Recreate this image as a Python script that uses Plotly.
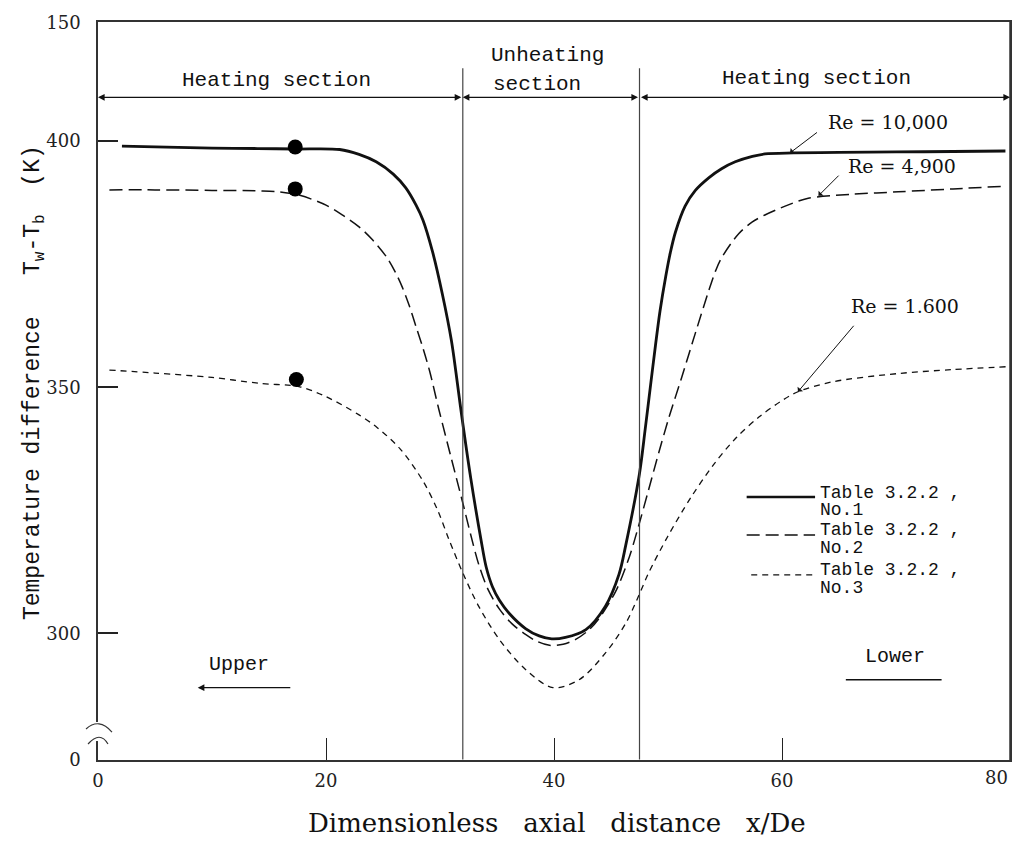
import plotly.graph_objects as go

# ---- data ----
x_re10000 = [2.1, 6, 10, 14, 17.3, 21.2, 22.9, 24.4, 25.9, 27.0, 27.9, 28.5, 29.35, 30.2, 31.0, 31.4,
             31.8, 32.7, 33.6, 34.05, 34.6, 35.2, 36.1, 37.5, 38.7, 39.8, 41.0, 42.8, 44.5, 45.7,
             46.3, 47.5, 48.0, 48.5, 48.9, 49.3, 49.8, 50.2, 50.65, 51.5, 52.4, 53.6, 54.7, 55.9,
             57.4, 58.5, 61, 65, 70, 75, 79.6]
y_re10000 = [399.0, 398.8, 398.6, 398.5, 398.4, 398.3, 397.3, 395.8, 393.3, 390.5, 387.0, 384.0, 377.5,
             369.0, 359.5, 353.0, 346.0, 331.5, 319.0, 313.5, 309.5, 306.8, 304.0, 301.0, 299.5, 298.9,
             299.2, 300.8, 305.5, 312.0, 318.0, 332.5, 341.5, 351.0, 358.5, 365.5, 372.5, 377.3, 381.5,
             386.8, 390.0, 392.6, 394.4, 395.8, 396.9, 397.4, 397.6, 397.7, 397.8, 397.9, 398.0]

x_re4900 = [1.0, 5, 10, 14.2, 15.9, 17.7, 20.0, 21.5, 22.9, 24.1, 25.3, 26.1, 26.7, 27.3, 27.9, 28.5,
            29.1, 29.9, 31.0, 32.0, 32.7, 33.4, 34.2, 35.2, 36.3, 37.5, 38.5, 39.6, 40.8, 41.9,
            43.0, 43.9, 45.4, 46.6, 47.5, 48.3, 49.2, 50.1, 51.2, 52.4, 53.6, 54.2,
            54.7, 56.2, 57.4, 58.5, 60.5, 62.3, 66, 70.2, 75, 79.2]
y_re4900 = [390.1, 390.1, 390.0, 389.9, 389.7, 389.0, 387.0, 384.9, 382.6, 379.9, 376.5, 373.3, 370.3,
            366.6, 362.3, 358.0, 353.2, 345.5, 335.5, 326.5, 320.0, 314.0, 309.0, 305.0, 302.0, 299.8,
            298.4, 297.6, 297.8, 298.8, 300.6, 302.9, 308.5, 315.5, 322.5, 329.2, 336.8, 344.0, 352.0,
            361.0, 369.8, 373.8, 376.3, 381.2, 383.6, 385.0, 387.0, 388.4, 389.2, 389.7, 390.3, 390.8]

x_re1600 = [1.0, 5, 10, 14.2, 17.7, 20.0, 22.9, 24.5, 26.5, 28.5, 29.8, 30.8, 32.0, 33.4, 35.2, 37.5,
            39.9, 42.2, 44.5, 46.3, 47.4, 48.3, 50, 52, 54, 56, 58, 60, 61.4, 64.4, 70.2, 75, 79.8]
y_re1600 = [353.5, 352.9, 352.0, 350.8, 350.1, 348.1, 344.4, 341.8, 337.5, 331.0, 325.0, 319.0, 312.3,
            305.5, 298.8, 292.7, 289.0, 290.6, 296.0, 302.1, 307.5, 312.3, 319.8, 327.6, 334.3, 339.8,
            344.0, 347.3, 349.1, 351.1, 352.8, 353.6, 354.2]

dot_x = [17.3, 17.3, 17.4]
dot_y = [398.8, 390.3, 351.6]

section_bounds = [0, 32.0, 47.5, 80]
x_ticks = [0, 20, 40, 60, 80]
x_ticktext = ["0", "20", "40", "60", ""]
last_x_label = "80"
y_tickvals = [274.4, 300, 350, 400, 424.1]
y_ticktext = ["0", "300", "350", "400", "150"]

MONO = "Liberation Mono"
SERIF = "DejaVu Serif"
INK = "#111111"

fig = go.Figure()
fig.add_trace(go.Scatter(x=x_re10000, y=y_re10000, mode="lines",
                         line=dict(color=INK, width=2.8, shape="spline", smoothing=0.9)))
fig.add_trace(go.Scatter(x=x_re4900, y=y_re4900, mode="lines",
                         line=dict(color=INK, width=1.5, dash="13px,6px", shape="spline", smoothing=0.9)))
fig.add_trace(go.Scatter(x=x_re1600, y=y_re1600, mode="lines",
                         line=dict(color=INK, width=1.3, dash="6px,5px", shape="spline", smoothing=0.9)))
fig.add_trace(go.Scatter(x=dot_x, y=dot_y, mode="markers",
                         marker=dict(color="black", size=15)))

shapes = []
# section boundary lines
for xb in section_bounds[1:3]:
    shapes.append(dict(type="line", xref="x", yref="y", x0=xb, x1=xb, y0=274.4, y1=414.8,
                       line=dict(color="#444444", width=1.2)))
# legend sample lines
shapes.append(dict(type="line", xref="x", yref="y", x0=56.9, x1=62.9, y0=327.7, y1=327.7,
                   line=dict(color=INK, width=2.5)))
shapes.append(dict(type="line", xref="x", yref="y", x0=56.9, x1=62.9, y0=320.0, y1=320.0,
                   line=dict(color=INK, width=1.5, dash="13px,6px")))
shapes.append(dict(type="line", xref="x", yref="y", x0=57.3, x1=62.9, y0=311.9, y1=311.9,
                   line=dict(color=INK, width=1.3, dash="6px,5px")))
# "Lower" line
shapes.append(dict(type="line", xref="x", yref="y", x0=65.6, x1=74.0, y0=290.6, y1=290.6,
                   line=dict(color=INK, width=1.3)))
# right frame line (explicit)
shapes.append(dict(type="line", xref="paper", yref="paper", x0=1, x1=1, y0=0, y1=1,
                   line=dict(color="#333333", width=1.5)))
# axis break: white gap + arcs
shapes.append(dict(type="rect", xref="paper", yref="paper", x0=-0.005, x1=0.005, y0=0.0257, y1=0.0515,
                   fillcolor="white", line=dict(width=0), layer="above"))
shapes.append(dict(type="path", xref="paper", yref="paper",
                   path="M -0.01313,0.0420 Q 0.0011,0.0580 0.01532,0.0379",
                   line=dict(color="#333333", width=1.2)))
shapes.append(dict(type="path", xref="paper", yref="paper",
                   path="M -0.01094,0.0217 Q 0.0022,0.0400 0.01094,0.0217",
                   line=dict(color="#333333", width=1.2)))

ann = []
def txt(x, y, s, font=MONO, size=21, xanchor="center"):
    ann.append(dict(x=x, y=y, xref="x", yref="y", text=s, showarrow=False, xanchor=xanchor,
                    yanchor="middle", font=dict(family=font, size=size, color=INK)))

def arrow(x_head, y_head, x_tail, y_tail, both=False, head=2, width=1.1):
    ann.append(dict(x=x_head, y=y_head, ax=x_tail, ay=y_tail, xref="x", yref="y", axref="x", ayref="y",
                    text="", showarrow=True, arrowhead=head, arrowsize=1.2, arrowwidth=width,
                    arrowcolor=INK, arrowside="end+start" if both else "end",
                    standoff=0, startstandoff=0))

# section labels and arrows
txt(15.7, 412.3, "Heating section")
arrow(section_bounds[0], 408.9, section_bounds[1], 408.9, both=True)
txt(34.3, 417.4, "Unheating", xanchor="left")
txt(34.5, 411.5, "section", xanchor="left")
arrow(section_bounds[1], 408.9, section_bounds[2], 408.9, both=True)
txt(63.0, 412.7, "Heating section")
arrow(section_bounds[3], 408.9, section_bounds[2], 408.9, both=True)

# Re labels
txt(69.3, 403.8, "Re = 10,000", font=SERIF, size=19)
arrow(60.7, 397.6, 63.2, 402.0, head=1, width=1)
txt(70.5, 394.9, "Re = 4,900", font=SERIF, size=19)
arrow(63.2, 388.9, 65.1, 393.3, head=1, width=1)
txt(70.8, 366.5, "Re = 1.600", font=SERIF, size=19)
arrow(61.4, 349.1, 66.4, 362.8, head=1, width=1)

# legend texts
for ytab, yno, no in [(328.6, 325.0, "No.1"), (321.0, 317.3, "No.2"), (312.9, 309.2, "No.3")]:
    txt(63.2, ytab, "Table 3.2.2 ,", size=18, xanchor="left")
    txt(63.2, yno, no, size=18, xanchor="left")

# Upper / Lower
txt(12.4, 293.7, "Upper", size=20)
arrow(8.75, 289.0, 17.0, 289.0, head=2, width=1.1)
txt(69.9, 295.3, "Lower", size=20)

# last x tick label, kept inside the page
ann.append(dict(x=x_ticks[-1], y=-0.024, xref="x", yref="paper", showarrow=False, text=last_x_label,
                xanchor="right", yanchor="middle", font=dict(family=SERIF, size=18, color="#222222")))

# axis titles
ann.append(dict(x=-0.0689, y=0.511, xref="paper", yref="paper", showarrow=False, textangle=-90,
                xanchor="center", yanchor="middle",
                text="Temperature difference   T<sub>w</sub>-T<sub>b</sub>  (K)",
                font=dict(family=MONO, size=23, color=INK)))
ann.append(dict(x=0.503, y=-0.0854, xref="paper", yref="paper", showarrow=False,
                xanchor="center", yanchor="middle",
                text="Dimensionless   axial   distance   x/De",
                font=dict(family=SERIF, size=26, color=INK)))

# page body adds an 8px margin; the figure is sized so the page is exactly 1022x864
fig.update_layout(
    width=1006, height=848,
    margin=dict(l=90, r=2, t=14, b=96),
    paper_bgcolor="white", plot_bgcolor="white",
    showlegend=False,
    shapes=shapes, annotations=ann,
    xaxis=dict(range=[0, 80], tickvals=x_ticks, ticktext=x_ticktext, ticks="inside", ticklen=22,
               tickwidth=1.2, tickcolor="#222222", showline=True, mirror=True, linecolor="#333333",
               linewidth=1.5, showgrid=False, zeroline=False, ticklabelstandoff=4,
               tickfont=dict(family=SERIF, size=18, color="#222222")),
    yaxis=dict(range=[274.3, 424.2], tickvals=y_tickvals, ticktext=y_ticktext, ticks="inside",
               ticklen=20, tickwidth=2, tickcolor="#222222", showline=True, mirror=True,
               linecolor="#333333", linewidth=1.5, showgrid=False, zeroline=False,
               ticklabelstandoff=12, tickfont=dict(family=SERIF, size=18, color="#222222")),
)

fig.write_html("out.html")
